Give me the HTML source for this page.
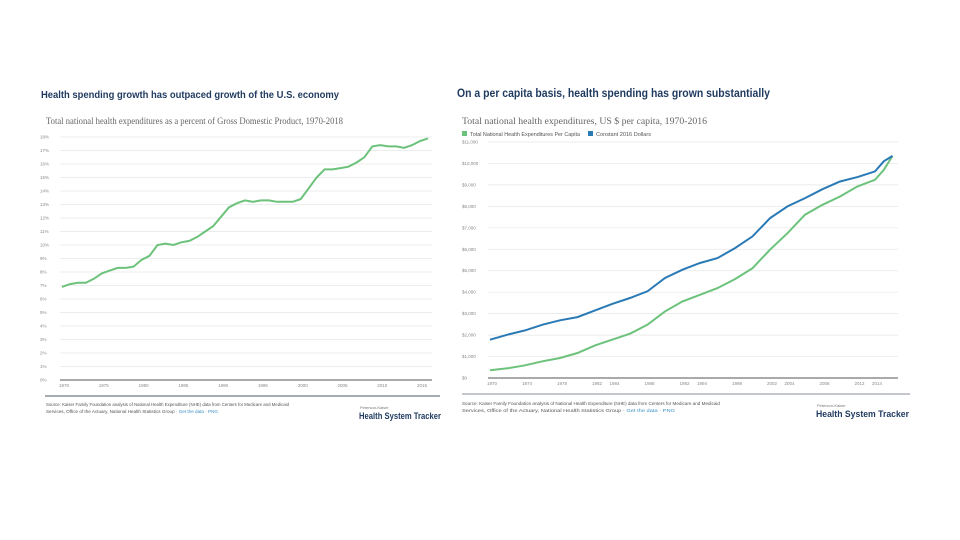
<!DOCTYPE html>
<html><head><meta charset="utf-8"><style>
body{margin:0;background:#fff;width:960px;height:540px;overflow:hidden;font-family:"Liberation Sans",sans-serif;}
svg{display:block}
</style></head><body>
<svg width="960" height="540" id="root">
<g id="left">
<text x="41" y="98" font-size="10.5" font-weight="bold" fill="#1f3a5f" textLength="298" lengthAdjust="spacingAndGlyphs">Health spending growth has outpaced growth of the U.S. economy</text>
<text x="46" y="124" font-size="9" fill="#666" font-family="Liberation Serif,serif" textLength="297" lengthAdjust="spacingAndGlyphs">Total national health expenditures as a percent of Gross Domestic Product, 1970-2018</text>
<g id="lgrid"></g>
<g id="lyl"></g>
<g id="lxl"></g>
<line x1="60" x2="432" y1="380" y2="380" stroke="#555" stroke-width="1"/>
<path id="lline" fill="none" stroke="#6cc27b" stroke-width="2"/>
<line x1="45" x2="440" y1="396" y2="396" stroke="#8a9099" stroke-width="1.5"/>
<text x="46" y="406" font-size="4.8" fill="#555" textLength="243" lengthAdjust="spacingAndGlyphs">Source: Kaiser Family Foundation analysis of National Health Expenditure (NHE) data from Centers for Medicare and Medicaid</text>
<text x="46" y="413" font-size="4.8" fill="#555" textLength="172" lengthAdjust="spacingAndGlyphs">Services, Office of the Actuary, National Health Statistics Group · <tspan fill="#3a8fc4">Get the data · PNG</tspan></text>
<text x="360" y="409" font-size="4" fill="#777">Peterson-Kaiser</text>
<text x="359" y="419" font-size="9" font-weight="bold" fill="#1f3a5f" textLength="82" lengthAdjust="spacingAndGlyphs">Health System Tracker</text>
</g>
<g id="right">
<text x="457" y="97" font-size="11.5" font-weight="bold" fill="#1f3a5f" textLength="313" lengthAdjust="spacingAndGlyphs">On a per capita basis, health spending has grown substantially</text>
<text x="462" y="124" font-size="9" fill="#666" font-family="Liberation Serif,serif" textLength="245" lengthAdjust="spacingAndGlyphs">Total national health expenditures, US $ per capita, 1970-2016</text>
<rect x="462" y="131" width="5" height="5" fill="#6cc27b"/>
<text x="470" y="136" font-size="5" fill="#555" textLength="110" lengthAdjust="spacingAndGlyphs">Total National Health Expenditures Per Capita</text>
<rect x="588" y="131" width="5" height="5" fill="#2a7ab5"/>
<text x="596" y="136" font-size="5" fill="#555" textLength="55" lengthAdjust="spacingAndGlyphs">Constant 2016 Dollars</text>
<g id="rgrid"></g>
<g id="ryl"></g>
<g id="rxl"></g>
<line x1="488" x2="898" y1="378" y2="378" stroke="#555" stroke-width="1"/>
<path id="rnom" fill="none" stroke="#6cc27b" stroke-width="2"/>
<path id="rcon" fill="none" stroke="#2a7ab5" stroke-width="2"/>
<line x1="462" x2="910" y1="394" y2="394" stroke="#8a9099" stroke-width="1"/>
<text x="462" y="405" font-size="4.8" fill="#555" textLength="258" lengthAdjust="spacingAndGlyphs">Source: Kaiser Family Foundation analysis of National Health Expenditure (NHE) data from Centers for Medicare and Medicaid</text>
<text x="462" y="412" font-size="4.8" fill="#555" textLength="213" lengthAdjust="spacingAndGlyphs">Services, Office of the Actuary, National Health Statistics Group · <tspan fill="#3a8fc4">Get the data · PNG</tspan></text>
<text x="817" y="407" font-size="4" fill="#777">Peterson-Kaiser</text>
<text x="816" y="417" font-size="9" font-weight="bold" fill="#1f3a5f" textLength="93" lengthAdjust="spacingAndGlyphs">Health System Tracker</text>
</g>
</svg>
<script>
const NS="http://www.w3.org/2000/svg";
// Left chart data
const leftYears=[1970,1971,1972,1973,1974,1975,1976,1977,1978,1979,1980,1981,1982,1983,1984,1985,1986,1987,1988,1989,1990,1991,1992,1993,1994,1995,1996,1997,1998,1999,2000,2001,2002,2003,2004,2005,2006,2007,2008,2009,2010,2011,2012,2013,2014,2015,2016];
const leftPct=[6.9,7.1,7.2,7.2,7.5,7.9,8.1,8.3,8.3,8.4,8.9,9.2,10.0,10.1,10.0,10.2,10.3,10.6,11.0,11.4,12.1,12.8,13.1,13.3,13.2,13.3,13.3,13.2,13.2,13.2,13.4,14.2,15.0,15.6,15.6,15.7,15.8,16.1,16.5,17.3,17.4,17.3,17.3,17.2,17.4,17.7,17.9];
const leftYTicks=[0,1,2,3,4,5,6,7,8,9,10,11,12,13,14,15,16,17,18];
const leftXTicks=[1970,1975,1980,1985,1990,1995,2000,2005,2010,2015];
// Right chart data
const rightYears=[1970,1972,1974,1976,1978,1980,1982,1984,1986,1988,1990,1992,1994,1996,1998,2000,2002,2004,2006,2008,2010,2012,2014,2015,2016];
const nominalPerCapita=[357,450,590,780,930,1165,1520,1790,2065,2485,3105,3570,3880,4190,4610,5120,5980,6750,7610,8075,8460,8930,9240,9700,10350];
const constant2016=[1785,2020,2220,2485,2690,2840,3150,3460,3730,4040,4660,5050,5360,5590,6055,6600,7450,8000,8385,8800,9160,9365,9630,10100,10350];
const rightYTicks=[0,1000,2000,3000,4000,5000,6000,7000,8000,9000,10000,11000];
const rightXTicks=[1970,1974,1978,1982,1984,1988,1992,1994,1998,2002,2004,2008,2012,2014];

const lx=y=>62+(y-1970)*(428-62)/46, ly=v=>380-v*(380-137)/18;
const rx=y=>490+(y-1970)*(892.5-490)/46, ry=v=>378-v*(378-142)/11000;

function add(g,tag,attrs,txt){const e=document.createElementNS(NS,tag);for(const k in attrs)e.setAttribute(k,attrs[k]);if(txt!=null)e.textContent=txt;document.getElementById(g).appendChild(e);return e;}

leftYTicks.forEach(v=>{
  if(v>0){const l=add('lgrid','line',{x1:60,x2:432,y1:ly(v),y2:ly(v),stroke:'#e6e6e6','stroke-width':0.7});
  
  }
  const t=add('lyl','text',{x:40,y:ly(v)+1.5,'font-size':4.5,fill:'#888'},v+'%');
  
  
});
leftXTicks.forEach(v=>{
  const t=add('lxl','text',{x:lx(v)-3,y:387,'font-size':4.5,fill:'#888'},v);
  
  
});
document.getElementById('lline').setAttribute('d',leftYears.map((y,i)=>(i?'L':'M')+lx(y).toFixed(1)+' '+ly(leftPct[i]).toFixed(1)).join(''));

rightYTicks.forEach(v=>{
  if(v>0){const l=add('rgrid','line',{x1:488,x2:898,y1:ry(v),y2:ry(v),stroke:'#e6e6e6','stroke-width':0.7});
  
  }
  const t=add('ryl','text',{x:462,y:ry(v)+1.5,'font-size':4.5,fill:'#888'},'$'+v.toLocaleString('en-US'));
  
  
});
rightXTicks.forEach(v=>{
  const t=add('rxl','text',{x:rx(v)-3,y:385,'font-size':4.5,fill:'#888'},v);
  
  
});
document.getElementById('rnom').setAttribute('d',rightYears.map((y,i)=>(i?'L':'M')+rx(y).toFixed(1)+' '+ry(nominalPerCapita[i]).toFixed(1)).join(''));
document.getElementById('rcon').setAttribute('d',rightYears.map((y,i)=>(i?'L':'M')+rx(y).toFixed(1)+' '+ry(constant2016[i]).toFixed(1)).join(''));
</script>
</body></html>
